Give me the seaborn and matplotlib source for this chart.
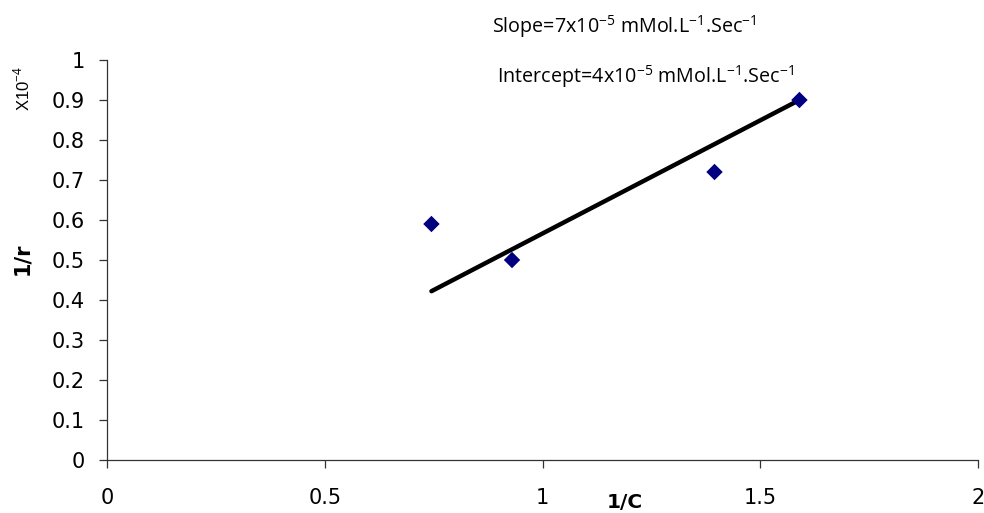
import matplotlib
matplotlib.use("Agg")
import matplotlib.pyplot as plt
import seaborn as sns
import pandas as pd

# data
inv_c = [0.745, 0.93, 1.395, 1.59]
inv_r = [0.59, 0.50, 0.72, 0.90]
line_x = [0.745, 1.59]
line_y = [0.422, 0.90]
x_ticks = [0, 0.5, 1, 1.5, 2]
x_tick_labels = ["0", "0.5", "1", "1.5", "2"]
y_ticks = [0, 0.1, 0.2, 0.3, 0.4, 0.5, 0.6, 0.7, 0.8, 0.9, 1]
y_tick_labels = ["0", "0.1", "0.2", "0.3", "0.4", "0.5", "0.6", "0.7", "0.8", "0.9", "1"]

sns.set_style("ticks")
plt.rcParams["font.family"] = ["DejaVu Sans"]
plt.rcParams["mathtext.fontset"] = "custom"
plt.rcParams["mathtext.rm"] = "Open Sans"
plt.rcParams["text.color"] = "black"

W, H = 984, 513
fig = plt.figure(figsize=(W / 100, H / 100), dpi=100)
ax = fig.add_axes([107 / W, 1 - 460 / H, (978 - 107) / W, (460 - 60) / H])

pts = pd.DataFrame({"x": inv_c, "y": inv_r})
fit = pd.DataFrame({"x": line_x, "y": line_y})

sns.lineplot(data=fit, x="x", y="y", ax=ax, color="black", linewidth=3.2,
             solid_capstyle="round")
sns.scatterplot(data=pts, x="x", y="y", ax=ax, marker="D", s=70,
                color="#000080", edgecolor="none", zorder=3)

ax.set_xlim(0, 2)
ax.set_ylim(0, 1)
ax.set_xticks(x_ticks)
ax.set_xticklabels(x_tick_labels)
ax.set_yticks(y_ticks)
ax.set_yticklabels(y_tick_labels)
ax.tick_params(axis="both", direction="out", length=6, width=0.9, color="#333333",
               labelsize=15, labelcolor="black")
ax.tick_params(axis="x", pad=14.5)
ax.tick_params(axis="y", pad=10)
for side in ["top", "right"]:
    ax.spines[side].set_visible(False)
for side in ["left", "bottom"]:
    ax.spines[side].set_color("#333333")
    ax.spines[side].set_linewidth(0.9)

ax.set_xlabel("")
ax.set_ylabel("")
fig.text(625 / W, 1 - 503 / H, "1/C", ha="center", va="center",
         fontsize=14.5, fontweight="bold", color="black")
fig.text(22 / W, 1 - 259 / H, "1/r", ha="center", va="center",
         fontsize=15, fontweight="bold", rotation=90, color="black")
fig.text(22 / W, 1 - 89 / H, r"X10$^{\mathrm{-4}}$", ha="center", va="center",
         fontsize=12, rotation=90, family="Liberation Sans", color="black")

fig.text(492 / W, 1 - 27 / H,
         r"Slope=7x10$^{\mathrm{-5}}$ mMol.L$^{\mathrm{-1}}$.Sec$^{\mathrm{-1}}$",
         ha="left", va="center", fontsize=14.2, family="Open Sans", color="black")
fig.text(497 / W, 1 - 77 / H,
         r"Intercept=4x10$^{\mathrm{-5}}$ mMol.L$^{\mathrm{-1}}$.Sec$^{\mathrm{-1}}$",
         ha="left", va="center", fontsize=14.2, family="Open Sans", color="black")

fig.savefig("out.png", dpi=100)
